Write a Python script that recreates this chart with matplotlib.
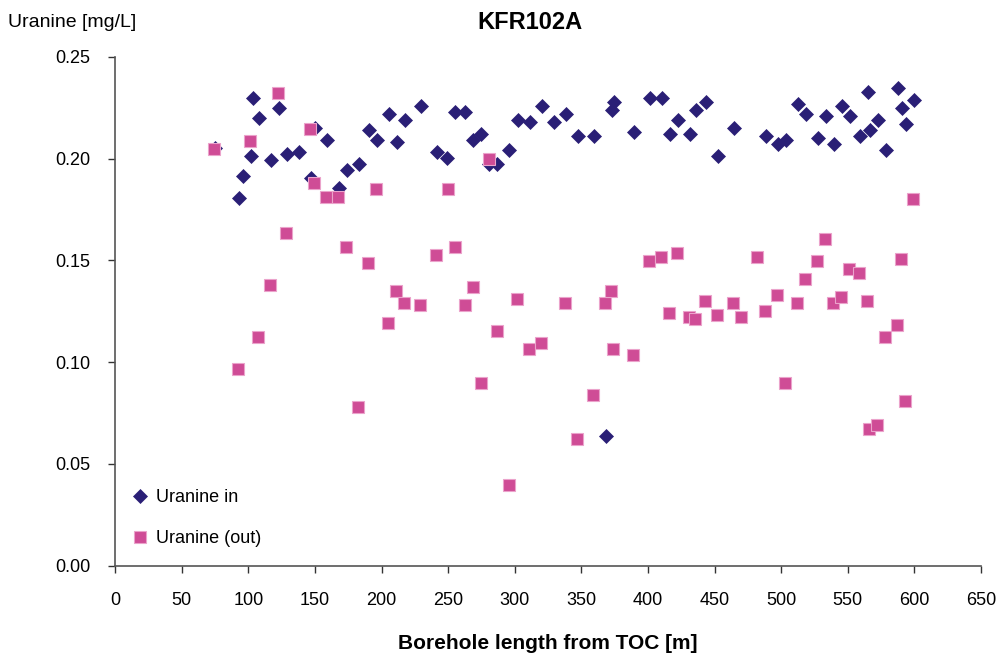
import matplotlib
matplotlib.use("Agg")
import matplotlib.pyplot as plt

# Uranine in (diamonds)
in_x = [75.1, 103.6, 123.1, 108.1, 102.1, 96.1, 93.1, 117.1, 129.1, 138.1,
        150.1, 159.1, 147.1, 168.1, 174.1, 183.1, 190.6, 196.7, 205.7, 217.7,
        211.7, 229.7, 241.7, 249.2, 255.2, 262.7, 268.7, 274.7, 280.7, 286.7,
        295.7, 302.3, 311.3, 320.3, 329.3, 338.3, 347.3, 359.3, 374.3, 372.8,
        389.3, 401.3, 410.3, 416.3, 422.3, 431.3, 435.9, 443.4, 464.8, 452.8,
        488.8, 497.9, 503.9, 512.9, 518.9, 527.9, 533.9, 539.9, 545.9, 551.9,
        559.4, 566.9, 572.9, 565.4, 578.9, 587.9, 590.9, 599.9, 593.9, 368.3]
in_y = [0.2050, 0.2296, 0.2247, 0.2197, 0.2011, 0.1913, 0.1805, 0.1991, 0.2021, 0.2030,
        0.2148, 0.2089, 0.1906, 0.1857, 0.1942, 0.1972, 0.2138, 0.2089, 0.2217, 0.2188,
        0.2080, 0.2256, 0.2030, 0.2001, 0.2227, 0.2227, 0.2089, 0.2119, 0.1972, 0.1972,
        0.2040, 0.2188, 0.2178, 0.2256, 0.2178, 0.2217, 0.2109, 0.2109, 0.2276, 0.2237,
        0.2129, 0.2296, 0.2296, 0.2119, 0.2188, 0.2119, 0.2237, 0.2276, 0.2148, 0.2011,
        0.2109, 0.2070, 0.2089, 0.2266, 0.2217, 0.2099, 0.2207, 0.2070, 0.2256, 0.2207,
        0.2109, 0.2138, 0.2188, 0.2325, 0.2040, 0.2345, 0.2247, 0.2286, 0.2168, 0.0636]

# Uranine (out) (squares)
out_x = [74.3, 101.3, 122.3, 146.6, 149.6, 158.6, 167.6, 196.1, 250.2, 280.5,
         128.3, 116.3, 107.3, 92.3, 173.6, 190.1, 211.1, 217.1, 229.2, 205.1,
         182.6, 241.2, 255.0, 268.5, 262.5, 286.5, 274.5, 301.5, 310.5, 319.5,
         295.5, 337.5, 346.5, 358.5, 367.6, 372.1, 373.6, 388.6, 400.6, 409.6,
         421.6, 415.6, 430.6, 435.1, 442.6, 452.1, 464.1, 470.1, 482.1, 488.1,
         497.1, 503.1, 512.1, 518.1, 527.1, 533.1, 539.1, 545.1, 551.1, 558.7,
         564.7, 566.2, 572.2, 578.2, 587.2, 590.2, 593.2, 599.2]
out_y = [0.2045, 0.2084, 0.2320, 0.2143, 0.1878, 0.1809, 0.1809, 0.1849, 0.1849, 0.1996,
         0.1633, 0.1377, 0.1122, 0.0965, 0.1564, 0.1485, 0.1348, 0.1289, 0.1279, 0.1191,
         0.0778, 0.1525, 0.1564, 0.1367, 0.1279, 0.1151, 0.0896, 0.1308, 0.1063, 0.1092,
         0.0395, 0.1289, 0.0621, 0.0837, 0.1289, 0.1348, 0.1063, 0.1033, 0.1495, 0.1515,
         0.1534, 0.1240, 0.1220, 0.1210, 0.1299, 0.1230, 0.1289, 0.1220, 0.1515, 0.1250,
         0.1328, 0.0896, 0.1289, 0.1407, 0.1495, 0.1603, 0.1289, 0.1318, 0.1456, 0.1436,
         0.1299, 0.0670, 0.0690, 0.1122, 0.1181, 0.1505, 0.0807, 0.1800]

x_ticks = list(range(0, 651, 50))
y_ticks = [0.00, 0.05, 0.10, 0.15, 0.20, 0.25]

plt.rcParams.update({
    'font.family': ['Liberation Sans', 'DejaVu Sans'],
    'font.size': 13,
})

fig = plt.figure(figsize=(9.96, 6.55), dpi=100)
ax = fig.add_axes([0.1155, 0.1363, 0.8695, 0.7771])

ax.plot(in_x, in_y, linestyle='none', marker='D', markersize=7.4,
        color='#2A1F76', markeredgecolor='#2A1F76', markeredgewidth=0.5,
        label='Uranine in', zorder=3)
ax.plot(out_x, out_y, linestyle='none', marker='s', markersize=8.4,
        color='#CF4C96', markeredgecolor='#EBA3CB', markeredgewidth=0.8,
        label='Uranine (out)', zorder=4)

ax.set_xlim(0, 650)
ax.set_ylim(0, 0.25)
ax.set_xticks(x_ticks)
ax.set_yticks(y_ticks)
ax.set_yticklabels([f'{v:.2f}' for v in y_ticks])
ax.tick_params(direction='out', length=5, width=1, colors='#333333',
               labelcolor='black', labelsize=13)
ax.tick_params(axis='x', pad=14)
ax.tick_params(axis='y', pad=13)

for side in ['top', 'right']:
    ax.spines[side].set_visible(False)
for side in ['left', 'bottom']:
    ax.spines[side].set_color('#555555')
    ax.spines[side].set_linewidth(1.2)

ax.set_xlabel('Borehole length from TOC [m]', fontsize=15, fontweight='bold',
              labelpad=18)
fig.text(0.008, 0.966, 'Uranine [mg/L]', fontsize=14, ha='left', va='center')
fig.text(0.532, 0.966, 'KFR102A', fontsize=17, fontweight='bold',
         ha='center', va='center')

ax.legend(loc='upper left', bbox_to_anchor=(0.018, 0.151), frameon=False,
          borderpad=0, borderaxespad=0, handlelength=1.0, handletextpad=0.4,
          labelspacing=1.35, numpoints=1, fontsize=13)

fig.savefig('out.png', dpi=100)
